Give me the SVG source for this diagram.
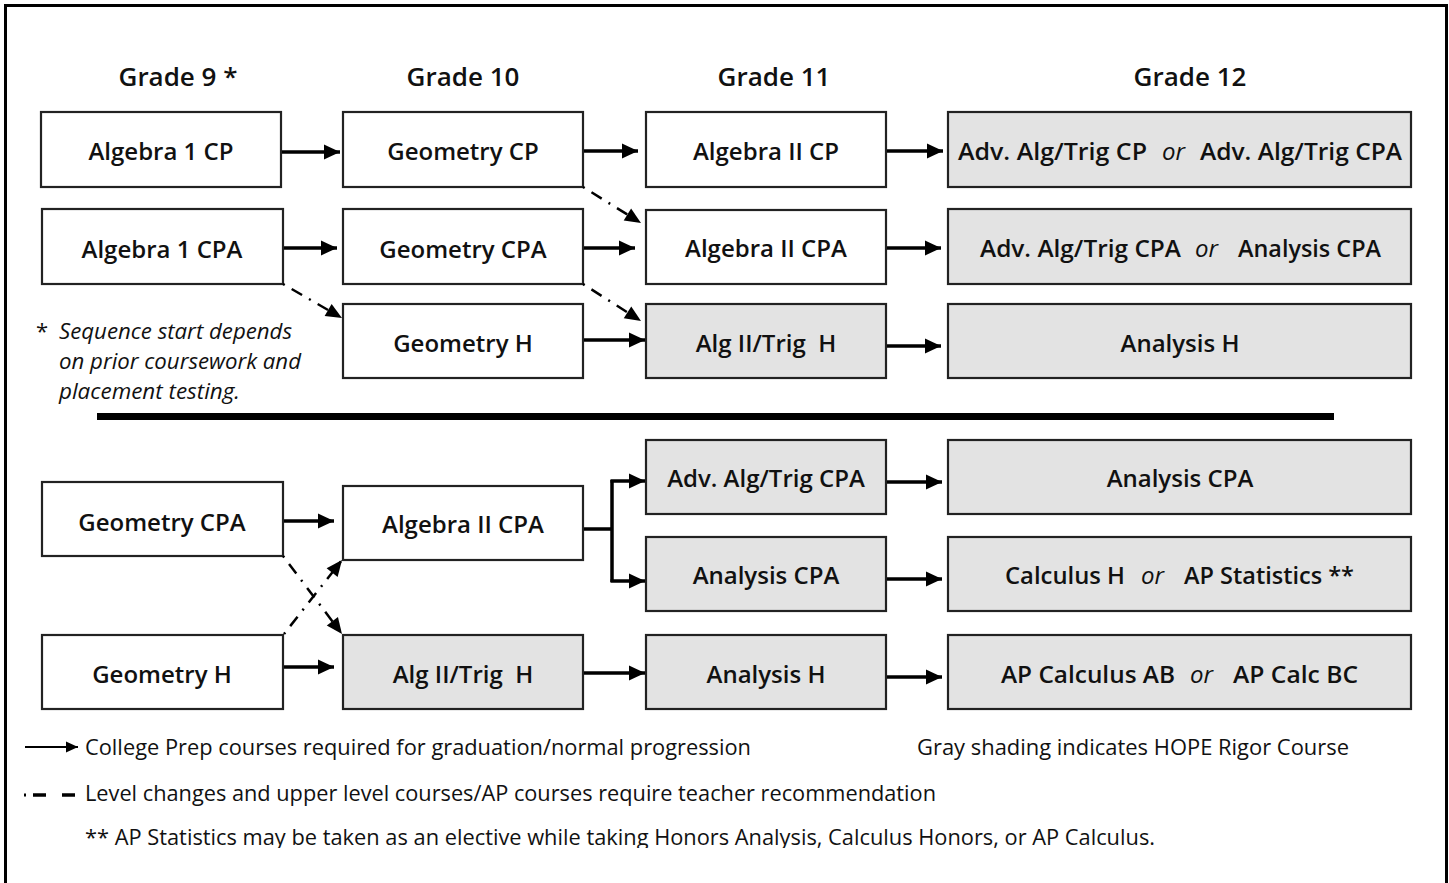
<svg xmlns="http://www.w3.org/2000/svg" width="1449" height="883" viewBox="0 0 1449 883">
<style>
  .box { fill: #ffffff; stroke: #222222; stroke-width: 2.2; }
  .gray { fill: #e3e3e3; stroke: #222222; stroke-width: 2.2; }
  .t { font-family: "Open Sans", "Noto Sans", "Liberation Sans", sans-serif; font-weight: 600; font-size: 24px; fill: #111111; }
  .hd { font-family: "Open Sans", "Noto Sans", "Liberation Sans", sans-serif; font-weight: 600; font-size: 26px; fill: #111111; text-anchor: middle; }
  .or { font-style: italic; font-weight: 400; }
  .note { font-family: "Open Sans", "Noto Sans", "Liberation Sans", sans-serif; font-style: italic; font-size: 22px; fill: #111111; }
  .leg { font-family: "Open Sans", "Noto Sans", "Liberation Sans", sans-serif; font-size: 21px; fill: #111111; }
  .solid { stroke: #000000; stroke-width: 3.5; fill: none; marker-end: url(#ah); }
  .dd { stroke: #000000; stroke-width: 2.5; fill: none; stroke-dasharray: 2 8 12 8; marker-end: url(#ah2); }
</style>
<defs>
  <marker id="ah" markerUnits="userSpaceOnUse" markerWidth="18" markerHeight="18" viewBox="0 0 18 18" refX="17" refY="9" orient="auto">
    <path d="M1,1.5 L17,9 L1,16.5 Z" fill="#000000"/>
  </marker>
  <marker id="ah2" markerUnits="userSpaceOnUse" markerWidth="18" markerHeight="18" viewBox="0 0 18 18" refX="17" refY="9" orient="auto">
    <path d="M1,2 L17,9 L1,16 Z" fill="#000000"/>
  </marker>
  <marker id="ahs" markerUnits="userSpaceOnUse" markerWidth="14" markerHeight="14" viewBox="0 0 14 14" refX="13" refY="7" orient="auto">
    <path d="M1,1.5 L13,7 L1,12.5 Z" fill="#000000"/>
  </marker>
  <clipPath id="clipBottom"><rect x="0" y="0" width="1449" height="848"/></clipPath>
</defs>

<rect id="frame" x="5.5" y="5.5" width="1441" height="1000" fill="#ffffff" stroke="#000000" stroke-width="3"/>

<g id="headers">
  <text class="hd" x="178" y="86">Grade 9 *</text>
  <text class="hd" x="463" y="86">Grade 10</text>
  <text class="hd" x="774" y="86">Grade 11</text>
  <text class="hd" x="1190" y="86">Grade 12</text>
</g>

<g id="footnote-start">
  <text class="note" x="36" y="339" style="font-style:normal">*</text>
  <text class="note" x="59" y="339" textLength="233" lengthAdjust="spacingAndGlyphs">Sequence start depends</text>
  <text class="note" x="59" y="369" textLength="242" lengthAdjust="spacingAndGlyphs">on prior coursework and</text>
  <text class="note" x="59" y="399" textLength="181" lengthAdjust="spacingAndGlyphs">placement testing.</text>
</g>

<line id="separator" x1="97" y1="416.5" x2="1334" y2="416.5" stroke="#000000" stroke-width="7"/>

<!-- Top section nodes -->
<g id="n-alg1cp"><rect class="box" x="41" y="112" width="240" height="75"/><text class="t" x="161" y="160" text-anchor="middle">Algebra 1 CP</text></g>
<g id="n-geocp"><rect class="box" x="343" y="112" width="240" height="75"/><text class="t" x="463" y="160" text-anchor="middle">Geometry CP</text></g>
<g id="n-alg2cp"><rect class="box" x="646" y="112" width="240" height="75"/><text class="t" x="766" y="160" text-anchor="middle">Algebra II CP</text></g>
<g id="n-advcp"><rect class="gray" x="948" y="112" width="463" height="75"/>
  <text class="t" x="958" y="160" textLength="189" lengthAdjust="spacingAndGlyphs">Adv. Alg/Trig CP</text>
  <text class="t or" x="1162" y="160">or</text>
  <text class="t" x="1200" y="160" textLength="202" lengthAdjust="spacingAndGlyphs">Adv. Alg/Trig CPA</text></g>

<g id="n-alg1cpa"><rect class="box" x="42" y="209" width="241" height="75"/><text class="t" x="162" y="258" text-anchor="middle">Algebra 1 CPA</text></g>
<g id="n-geocpa"><rect class="box" x="343" y="209" width="240" height="75"/><text class="t" x="463" y="258" text-anchor="middle">Geometry CPA</text></g>
<g id="n-alg2cpa"><rect class="box" x="646" y="210" width="240" height="74"/><text class="t" x="766" y="257" text-anchor="middle">Algebra II CPA</text></g>
<g id="n-advcpa"><rect class="gray" x="948" y="209" width="463" height="75"/>
  <text class="t" x="980" y="257" textLength="201" lengthAdjust="spacingAndGlyphs">Adv. Alg/Trig CPA</text>
  <text class="t or" x="1195" y="257">or</text>
  <text class="t" x="1238" y="257" textLength="143" lengthAdjust="spacingAndGlyphs">Analysis CPA</text></g>

<g id="n-geoh"><rect class="box" x="343" y="304" width="240" height="74"/><text class="t" x="463" y="352" text-anchor="middle">Geometry H</text></g>
<g id="n-alg2trigh"><rect class="gray" x="646" y="304" width="240" height="74"/><text class="t" x="766" y="352" text-anchor="middle" xml:space="preserve">Alg II/Trig  H</text></g>
<g id="n-analysish"><rect class="gray" x="948" y="304" width="463" height="74"/><text class="t" x="1180" y="352" text-anchor="middle">Analysis H</text></g>

<!-- Bottom section nodes -->
<g id="n-b-geocpa"><rect class="box" x="42" y="482" width="241" height="74"/><text class="t" x="162" y="531" text-anchor="middle">Geometry CPA</text></g>
<g id="n-b-alg2cpa"><rect class="box" x="343" y="486" width="240" height="74"/><text class="t" x="463" y="533" text-anchor="middle">Algebra II CPA</text></g>
<g id="n-b-advcpa"><rect class="gray" x="646" y="440" width="240" height="74"/><text class="t" x="766" y="487" text-anchor="middle">Adv. Alg/Trig CPA</text></g>
<g id="n-b-analysiscpa4"><rect class="gray" x="948" y="440" width="463" height="74"/><text class="t" x="1180" y="487" text-anchor="middle">Analysis CPA</text></g>
<g id="n-b-analysiscpa3"><rect class="gray" x="646" y="537" width="240" height="74"/><text class="t" x="766" y="584" text-anchor="middle">Analysis CPA</text></g>
<g id="n-b-calch"><rect class="gray" x="948" y="537" width="463" height="74"/>
  <text class="t" x="1005" y="584" textLength="120" lengthAdjust="spacingAndGlyphs">Calculus H</text>
  <text class="t or" x="1141" y="584">or</text>
  <text class="t" x="1184" y="584" textLength="170" lengthAdjust="spacingAndGlyphs">AP Statistics **</text></g>
<g id="n-b-geoh"><rect class="box" x="42" y="635" width="241" height="74"/><text class="t" x="162" y="683" text-anchor="middle">Geometry H</text></g>
<g id="n-b-alg2trigh"><rect class="gray" x="343" y="635" width="240" height="74"/><text class="t" x="463" y="683" text-anchor="middle" xml:space="preserve">Alg II/Trig  H</text></g>
<g id="n-b-analysish"><rect class="gray" x="646" y="635" width="240" height="74"/><text class="t" x="766" y="683" text-anchor="middle">Analysis H</text></g>
<g id="n-b-apcalc"><rect class="gray" x="948" y="635" width="463" height="74"/>
  <text class="t" x="1001" y="683" textLength="174" lengthAdjust="spacingAndGlyphs">AP Calculus AB</text>
  <text class="t or" x="1190" y="683">or</text>
  <text class="t" x="1233" y="683" textLength="125" lengthAdjust="spacingAndGlyphs">AP Calc BC</text></g>

<g id="connectors">
  <line class="solid" x1="282" y1="152" x2="340" y2="152"/>
  <line class="solid" x1="584" y1="151" x2="638" y2="151"/>
  <line class="solid" x1="887" y1="151" x2="943" y2="151"/>
  <line class="solid" x1="284" y1="248" x2="337" y2="248"/>
  <line class="solid" x1="584" y1="248" x2="635" y2="248"/>
  <line class="solid" x1="887" y1="248" x2="941" y2="248"/>
  <line class="solid" x1="584" y1="340" x2="645" y2="340"/>
  <line class="solid" x1="887" y1="346" x2="941" y2="346"/>
  <line class="dd" x1="583" y1="187" x2="641" y2="223"/>
  <line class="dd" x1="283" y1="284" x2="342" y2="318"/>
  <line class="dd" x1="583" y1="284" x2="641" y2="321"/>
  <line class="solid" x1="284" y1="521" x2="334" y2="521"/>
  <path d="M584,529 H612 M612,480 V582" stroke="#000000" stroke-width="3.5" fill="none"/>
  <line class="solid" x1="610.5" y1="481" x2="645" y2="481"/>
  <line class="solid" x1="610.5" y1="581" x2="645" y2="581"/>
  <line class="solid" x1="887" y1="482" x2="942" y2="482"/>
  <line class="solid" x1="887" y1="579" x2="942" y2="579"/>
  <line class="solid" x1="887" y1="677" x2="942" y2="677"/>
  <line class="solid" x1="284" y1="667" x2="334" y2="667"/>
  <line class="solid" x1="584" y1="673" x2="645" y2="673"/>
  <line class="dd" x1="283" y1="556" x2="342" y2="634"/>
  <line class="dd" x1="284" y1="634" x2="342" y2="560"/>
</g>

<g id="legend">
  <line x1="25" y1="747" x2="78" y2="747" stroke="#000000" stroke-width="2" marker-end="url(#ahs)"/>
  <text class="leg" x="85" y="755" textLength="666" lengthAdjust="spacingAndGlyphs">College Prep courses required for graduation/normal progression</text>
  <text class="leg" x="917" y="755" textLength="432" lengthAdjust="spacingAndGlyphs">Gray shading indicates HOPE Rigor Course</text>
  <line x1="24" y1="795" x2="26" y2="795" stroke="#000000" stroke-width="3"/>
  <line x1="33" y1="795" x2="46" y2="795" stroke="#000000" stroke-width="3.5"/>
  <line x1="62" y1="795" x2="75" y2="795" stroke="#000000" stroke-width="3.5"/>
  <text class="leg" x="85" y="801" textLength="851" lengthAdjust="spacingAndGlyphs">Level changes and upper level courses/AP courses require teacher recommendation</text>
  <text class="leg" x="85" y="845" textLength="1070" lengthAdjust="spacingAndGlyphs" clip-path="url(#clipBottom)">** AP Statistics may be taken as an elective while taking Honors Analysis, Calculus Honors, or AP Calculus.</text>
</g>
</svg>
